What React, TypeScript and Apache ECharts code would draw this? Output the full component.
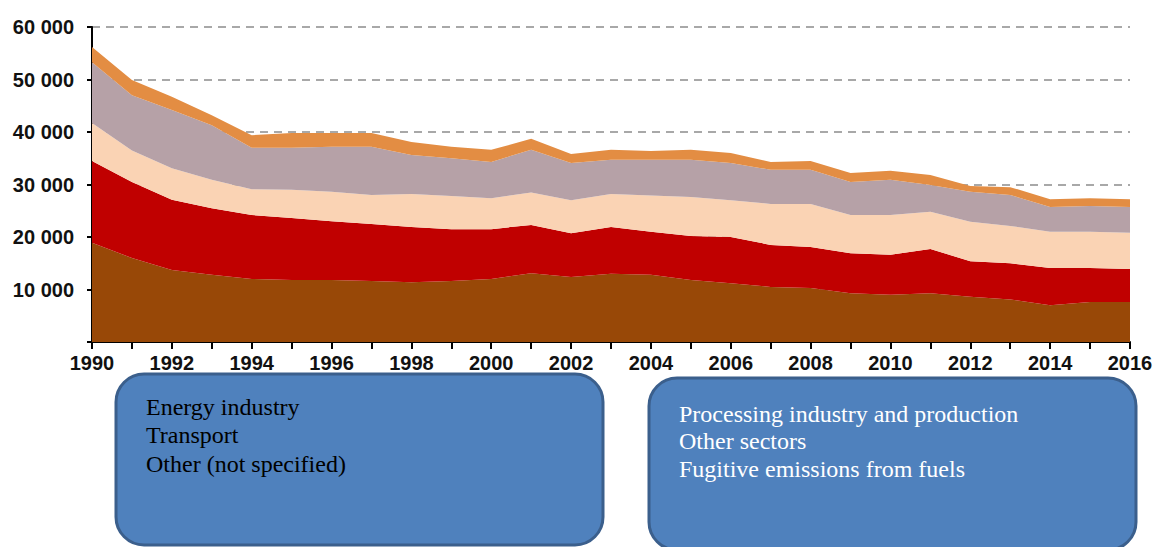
import React, { useEffect, useRef } from "react";
import * as echarts from "echarts";

const years = ["1990","1991","1992","1993","1994","1995","1996","1997","1998","1999","2000","2001","2002","2003","2004","2005","2006","2007","2008","2009","2010","2011","2012","2013","2014","2015","2016"];

const energyIndustry = [18900,16000,13700,12800,12000,11800,11800,11600,11400,11600,12000,13100,12400,13000,12800,11800,11200,10500,10300,9300,9000,9300,8600,8100,7000,7600,7600];
const processingIndustry = [15600,14500,13400,12700,12200,11800,11200,10900,10500,9900,9500,9200,8300,8900,8200,8400,8800,8000,7800,7600,7600,8400,6800,6900,7100,6500,6300];
const transport = [7200,6000,6000,5400,4900,5400,5600,5500,6300,6300,5900,6200,6300,6300,6900,7400,7000,7800,8200,7300,7600,7100,7500,7100,6900,6900,6900];
const otherSectors = [11600,10500,11100,10400,7900,8000,8600,9200,7400,7200,6900,8100,7100,6500,6800,7100,7100,6500,6500,6300,6700,5100,5700,5900,4700,4900,4900];
const fugitive = [2900,2900,2500,1900,2400,2800,2600,2600,2500,2200,2300,2100,1700,1900,1700,1900,1900,1500,1700,1700,1700,1900,1100,1500,1500,1500,1500];

const leftBoxLines = ["Energy industry", "Transport", "Other (not specified)"];
const rightBoxLines = ["Processing industry and production", "Other sectors", "Fugitive emissions from fuels"];

const seriesDefs = [
  { name: "Energy industry", data: energyIndustry, color: "#984807" },
  { name: "Processing industry and production", data: processingIndustry, color: "#C00000" },
  { name: "Transport", data: transport, color: "#FAD3B4" },
  { name: "Other sectors", data: otherSectors, color: "#B6A1A7" },
  { name: "Fugitive emissions from fuels", data: fugitive, color: "#E38D43" },
];

const labelFont = '"Liberation Sans", Arial, sans-serif';

export default function App() {
  const ref = useRef<HTMLDivElement>(null);
  useEffect(() => {
    document.body.style.margin = "0";
    const chart = echarts.init(ref.current!, null, { renderer: "svg" });
    const fmt = (v: number) => (v === 0 ? "" : String(v).replace(/\B(?=(\d{3})+(?!\d))/g, " "));
    const boxText = (lines: string[], x: number, ys: number[], color: string) =>
      lines.map((t, i) => ({
        type: "text",
        x,
        y: ys[i],
        z: 101,
        style: {
          text: t,
          fill: color,
          font: '24px "Liberation Serif", "Times New Roman", serif',
          verticalAlign: "middle",
          align: "left",
        },
      }));
    chart.setOption({
      animation: false,
      grid: { left: 92, right: 25, top: 27, bottom: 205, containLabel: false, outerBoundsMode: "none" },
      xAxis: {
        type: "category",
        data: years,
        boundaryGap: false,
        axisLine: { lineStyle: { color: "#000", width: 2 } },
        axisTick: { show: true, interval: 0, length: 7, lineStyle: { color: "#000", width: 2 } },
        axisLabel: {
          interval: 1,
          margin: 11,
          color: "#111",
          fontSize: 20,
          fontWeight: "bold",
          fontFamily: labelFont,
        },
        splitLine: { show: false },
      },
      yAxis: {
        type: "value",
        min: 0,
        max: 60000,
        interval: 10000,
        axisLine: { show: true, lineStyle: { color: "#000", width: 2 } },
        axisTick: { show: true, length: 5, lineStyle: { color: "#000", width: 2 } },
        axisLabel: {
          formatter: fmt,
          margin: 18,
          color: "#111",
          fontSize: 20,
          fontWeight: "bold",
          fontFamily: labelFont,
        },
        splitLine: { show: true, lineStyle: { color: "#8c8c8c", type: [8, 6], width: 1.5 } },
      },
      series: seriesDefs.map((s) => ({
        name: s.name,
        type: "line",
        stack: "total",
        data: s.data,
        symbol: "none",
        lineStyle: { width: 0 },
        areaStyle: { color: s.color, opacity: 1 },
        itemStyle: { color: s.color },
      })),
      graphic: [
        {
          type: "rect",
          z: 100,
          shape: { x: 116, y: 374, width: 487, height: 171, r: 28 },
          style: { fill: "#4F81BD", stroke: "#3B5F8C", lineWidth: 3 },
        },
        {
          type: "rect",
          z: 100,
          shape: { x: 649, y: 378, width: 487, height: 172, r: 28 },
          style: { fill: "#4F81BD", stroke: "#3B5F8C", lineWidth: 3 },
        },
        ...boxText(leftBoxLines, 146, [407, 435, 464], "#000"),
        ...boxText(rightBoxLines, 679, [414, 441, 469], "#fff"),
      ],
    });
    return () => chart.dispose();
  }, []);
  return <div ref={ref} style={{ width: 1155, height: 547 }} />;
}
